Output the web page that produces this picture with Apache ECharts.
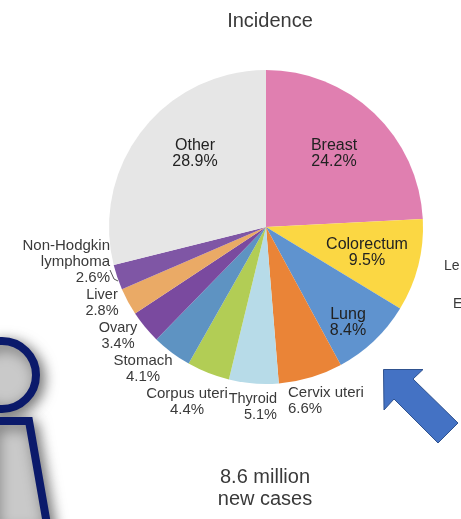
<!DOCTYPE html>
<html><head><meta charset="utf-8">
<style>html,body{margin:0;padding:0;background:#fff}#c{width:461px;height:519px;filter:blur(0.7px)}</style>
<script src="https://cdn.jsdelivr.net/npm/echarts@6/dist/echarts.min.js"></script></head>
<body><div id="c"></div>
<script>
const categories = ['Breast','Colorectum','Lung','Cervix uteri','Thyroid','Corpus uteri','Stomach','Ovary','Liver','Non-Hodgkin\nlymphoma','Other'];
const values = [24.2,9.5,8.4,6.6,5.1,4.4,4.1,3.4,2.8,2.6,28.9];
const colors = ['#e07fb0','#fbd743','#5f93cf','#ea8437','#b7dbe8','#b2cd55','#5e93c2','#7a4a9f','#eaaa66','#7f56a5','#e6e6e6'];
const labelSpots = {
 'Breast':[334,154,'center',16],'Colorectum':[367,253,'center',16],'Lung':[348,323,'center',16],
 'Cervix uteri':[288,401,'left',15],'Thyroid':[277,407,'right',14.5],'Corpus uteri':[187,402,'center',15],
 'Stomach':[143,369,'center',15],'Ovary':[118,336,'center',14.5],'Liver':[102,303,'center',14.5],
 'Non-Hodgkin\nlymphoma':[110,262,'right',15],'Other':[195,154,'center',16]
};
const navy='#0b1a6b', grey='#c9c9c9', txt='#3a3a3a', innerTxt='#222';
const insideNames=['Breast','Colorectum','Lung','Other'];
const chart = echarts.init(document.getElementById('c'),null,{renderer:'canvas'});
chart.setOption({
 animation:false,
 backgroundColor:'#fff',
 title:{text:'Incidence',left:265,top:6,textAlign:'center',textStyle:{fontFamily:'Liberation Sans',fontSize:20,fontWeight:'normal',color:txt}},
 graphic:[
  {type:'circle',z:1,shape:{cx:2,cy:375,r:34},style:{fill:grey,stroke:navy,lineWidth:8,shadowBlur:14,shadowColor:'rgba(0,0,0,.5)',shadowOffsetX:4,shadowOffsetY:4}},
  {type:'polygon',z:1,shape:{points:[[-10,421],[29,421],[48,530],[-10,530]]},style:{fill:grey,stroke:navy,lineWidth:8,shadowBlur:14,shadowColor:'rgba(0,0,0,.5)',shadowOffsetX:4,shadowOffsetY:4}},
  {type:'polygon',z:1,shape:{points:[[383.5,369.5],[423,369.5],[413,379],[458,423],[438,443],[394,399],[384,410]]},style:{fill:'#4472c4',stroke:'#2f528f',lineWidth:1}},
  {type:'polyline',z:5,shape:{points:[[110,270],[114,279],[118,281]]},style:{fill:'none',stroke:'#555',lineWidth:1}},
  {type:'text',z:5,x:265,y:466,style:{text:'8.6 million\nnew cases',align:'center',fontFamily:'Liberation Sans',fontSize:20,lineHeight:22,fill:txt}},
  {type:'text',z:5,x:444,y:259,style:{text:'Le',fontFamily:'Liberation Sans',fontSize:14,fill:txt}},
  {type:'text',z:5,x:453,y:297,style:{text:'E',fontFamily:'Liberation Sans',fontSize:14,fill:txt}}
 ],
 series:[{
  type:'pie',z:3,center:[266,227],radius:[0,157],startAngle:90,clockwise:true,sort:null,
  avoidLabelOverlap:false,
  label:{position:'inside',formatter:p=>p.name+'\n'+p.value.toFixed(1)+'%',fontFamily:'Liberation Sans',lineHeight:16,color:txt},
  labelLine:{show:false},
  itemStyle:{borderWidth:0},
  emphasis:{disabled:true},
  labelLayout:p=>{const s=labelSpots[categories[p.dataIndex]];return {x:s[0],y:s[1],align:s[2],verticalAlign:'middle',fontSize:s[3]};},
  data:categories.map((n,i)=>({name:n,value:values[i],itemStyle:{color:colors[i]},label:{fontSize:labelSpots[n][3],color:insideNames.includes(n)?innerTxt:txt}}))
 }]
});
</script></body></html>
